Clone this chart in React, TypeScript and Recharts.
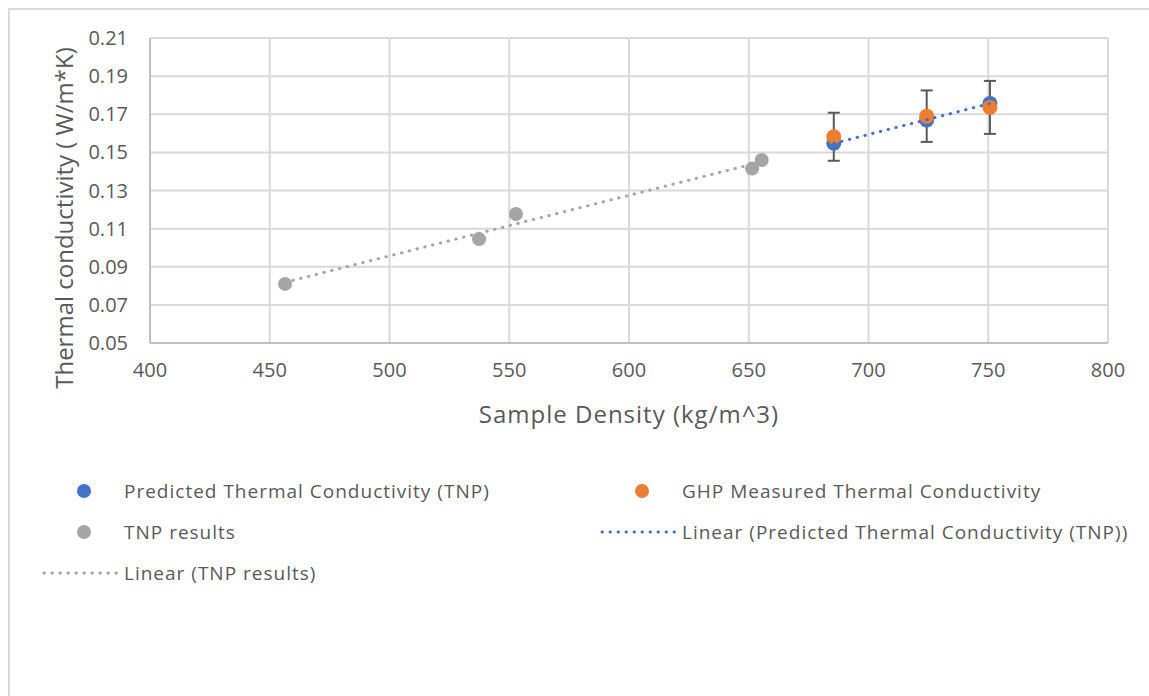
import { ScatterChart, Scatter, XAxis, YAxis, CartesianGrid, ErrorBar } from "recharts"

const tnpDensity = [456.4, 537.4, 552.8, 651.4, 655.4]
const tnpConductivity = [0.081, 0.1045, 0.1177, 0.1415, 0.146]

const predictedDensity = [685.5, 724.3, 750.7]
const predictedConductivity = [0.1548, 0.167, 0.1757]

const ghpDensity = [685.5, 724.3, 750.7]
const ghpConductivity = [0.1582, 0.169, 0.1736]
const ghpError = [0.0126, 0.0135, 0.0139]

const xTicks = [400, 450, 500, 550, 600, 650, 700, 750, 800]
const yTicks = [0.05, 0.07, 0.09, 0.11, 0.13, 0.15, 0.17, 0.19, 0.21]

const tnpData = tnpDensity.map((x, i) => ({ x, y: tnpConductivity[i] }))
const predictedData = predictedDensity.map((x, i) => ({ x, y: predictedConductivity[i] }))
const ghpData = ghpDensity.map((x, i) => ({ x, y: ghpConductivity[i], err: ghpError[i] }))

const FONT = "'Open Sans', 'Noto Sans', sans-serif"
const TEXT = "#595959"
const BLUE = "#4472c4"
const ORANGE = "#ed7d31"
const GRAY = "#a5a5a5"

const dot = (fill: string, r: number) => (props: any) => (
  <circle cx={props.cx} cy={props.cy} r={r} fill={fill} />
)
const noDot = () => <g />

// x is the marker centre for dots, the line's right end for trendlines
function LegendRow({ x, y, kind, color, label }: { x: number; y: number; kind: "dot" | "line"; color: string; label: string }) {
  return (
    <div style={{ position: "absolute", left: x, top: y - 13, height: 26, display: "flex", alignItems: "center" }}>
      {kind === "dot" ? (
        <svg width={80} height={26} style={{ marginLeft: -40 }}>
          <circle cx={40} cy={13} r={7} fill={color} />
        </svg>
      ) : (
        <svg width={78} height={26} style={{ marginLeft: -78 }}>
          <line x1={2} y1={13} x2={76} y2={13} stroke={color} strokeWidth={3} strokeDasharray="0.5 7.5" strokeLinecap="round" />
        </svg>
      )}
      <span style={{ marginLeft: kind === "dot" ? 0 : 4, whiteSpace: "nowrap" }}>{label}</span>
    </div>
  )
}

export default function App() {
  return (
    <div
      style={{
        position: "absolute",
        left: 0,
        top: 0,
        width: 1149,
        height: 696,
        overflow: "hidden",
        background: "#fff",
        fontFamily: FONT,
        color: TEXT,
      }}
    >
      <div style={{ position: "absolute", left: 8, top: 8, width: 1300, height: 900, border: "2px solid #d9d9d9" }} />
      <ScatterChart width={1149} height={696} margin={{ top: 38, right: 41, bottom: 323, left: 0 }} style={{ position: "absolute", left: 0, top: 0 }}>
        <CartesianGrid stroke="#d9d9d9" strokeWidth={2} horizontalValues={yTicks} verticalValues={xTicks} />
        <XAxis
          type="number"
          dataKey="x"
          domain={[400, 800]}
          ticks={xTicks}
          height={30}
          tickLine={false}
          tickMargin={14}
          axisLine={{ stroke: "#bfbfbf", strokeWidth: 2 }}
          tick={{ fill: TEXT, fontSize: 20, fontFamily: FONT }}
        />
        <YAxis
          type="number"
          dataKey="y"
          domain={[0.05, 0.21]}
          ticks={yTicks}
          width={150}
          tickLine={false}
          tickMargin={16}
          axisLine={{ stroke: "#bfbfbf", strokeWidth: 2 }}
          tickFormatter={(v: number) => v.toFixed(2)}
          tick={{ fill: TEXT, fontSize: 20, fontFamily: FONT }}
        />
        <Scatter name="TNP results" data={tnpData} fill={GRAY} shape={dot(GRAY, 7)} isAnimationActive={false} />
        <Scatter name="Predicted Thermal Conductivity (TNP)" data={predictedData} fill={BLUE} shape={dot(BLUE, 7.5)} isAnimationActive={false} />
        <Scatter name="GHP Measured Thermal Conductivity" data={ghpData} fill={ORANGE} shape={dot(ORANGE, 7.5)} isAnimationActive={false}>
          <ErrorBar dataKey="err" direction="y" width={6} stroke="#595959" strokeWidth={2} />
        </Scatter>
        <Scatter
          name="Linear (Predicted Thermal Conductivity (TNP))"
          data={predictedData}
          shape={noDot}
          line={{ stroke: BLUE, strokeWidth: 3, strokeDasharray: "0.5 7.5", strokeLinecap: "round" }}
          lineType="fitting"
          isAnimationActive={false}
        />
        <Scatter
          name="Linear (TNP results)"
          data={tnpData}
          shape={noDot}
          line={{ stroke: GRAY, strokeWidth: 3, strokeDasharray: "0.5 7.5", strokeLinecap: "round" }}
          lineType="fitting"
          isAnimationActive={false}
        />
      </ScatterChart>

      <div
        style={{
          position: "absolute",
          left: 63,
          top: 218,
          transform: "translate(-50%, -50%) rotate(-90deg)",
          fontSize: 24,
          whiteSpace: "nowrap",
        }}
      >
        Thermal conductivity ( W/m*K)
      </div>
      <div
        style={{
          position: "absolute",
          left: 629,
          top: 413,
          transform: "translate(-50%, -50%)",
          fontSize: 24,
          letterSpacing: 1,
          whiteSpace: "nowrap",
        }}
      >
        Sample Density (kg/m^3)
      </div>

      <div style={{ fontSize: 19, letterSpacing: 1 }}>
        <LegendRow x={84} y={491} kind="dot" color={BLUE} label="Predicted Thermal Conductivity (TNP)" />
        <LegendRow x={642} y={491} kind="dot" color={ORANGE} label="GHP Measured Thermal Conductivity" />
        <LegendRow x={84} y={532} kind="dot" color={GRAY} label="TNP results" />
        <LegendRow x={678} y={532} kind="line" color={BLUE} label="Linear (Predicted Thermal Conductivity (TNP))" />
        <LegendRow x={120} y={573} kind="line" color={GRAY} label="Linear (TNP results)" />
      </div>
    </div>
  )
}
